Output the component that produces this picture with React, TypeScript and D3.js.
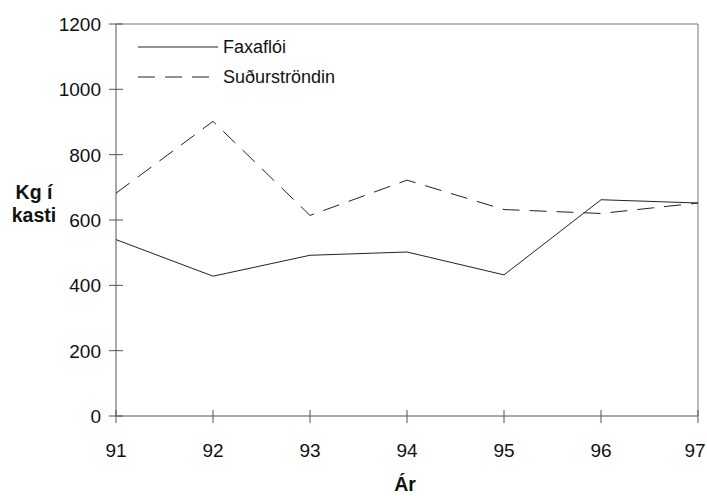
import React from "react";
import * as d3 from "d3";

const years = ["91", "92", "93", "94", "95", "96", "97"];
const faxafloi = [540, 428, 492, 502, 432, 662, 652];
const sudurstrondin = [682, 902, 614, 722, 632, 620, 652];
const yTicks = [0, 200, 400, 600, 800, 1000, 1200];
const seriesNames = ["Faxaflói", "Suðurströndin"];

const W = 707;
const H = 496;
const left = 116;
const right = 698;
const top = 24;
const bottom = 416;
const font = "'Liberation Sans', Arial, sans-serif";

export default function App() {
  const x = d3.scalePoint<string>().domain(years).range([left, right]);
  const y = d3.scaleLinear().domain([0, 1200]).range([bottom, top]);
  const line = d3
    .line<number>()
    .x((_, i) => x(years[i]) as number)
    .y((d) => y(d));

  return (
    <svg
      width={W}
      height={H}
      style={{ position: "absolute", left: 0, top: 0, background: "#fff" }}
      fontFamily={font}
    >
      <rect x={0} y={0} width={W} height={H} fill="#fff" />
      {/* frame */}
      <line x1={left} y1={top} x2={right} y2={top} stroke="#777" strokeWidth={1} />
      <line x1={right} y1={top} x2={right} y2={bottom} stroke="#777" strokeWidth={1} />
      {/* axes */}
      <line x1={left} y1={top} x2={left} y2={bottom} stroke="#555" strokeWidth={1} />
      <line x1={left} y1={bottom} x2={right} y2={bottom} stroke="#555" strokeWidth={1} />
      {yTicks.map((t) => (
        <g key={"y" + t}>
          <line x1={left - 7} x2={left + 7} y1={y(t)} y2={y(t)} stroke="#555" />
          <text x={101} y={y(t) + 7} textAnchor="end" fontSize={19} fill="#111">
            {t}
          </text>
        </g>
      ))}
      {years.map((yr, i) => (
        <g key={"x" + yr}>
          <line x1={x(yr)} x2={x(yr)} y1={bottom - 6} y2={bottom + 7} stroke="#555" />
          <text
            x={(x(yr) as number) - (i === years.length - 1 ? 3 : 0)}
            y={bottom + 41}
            textAnchor="middle"
            fontSize={19}
            fill="#111"
          >
            {yr}
          </text>
        </g>
      ))}
      {/* axis titles */}
      <text x={34} y={199} textAnchor="middle" fontSize={19.5} fontWeight="bold" fill="#111">
        Kg í
      </text>
      <text x={34} y={222} textAnchor="middle" fontSize={19.5} fontWeight="bold" fill="#111">
        kasti
      </text>
      <text x={405} y={491} textAnchor="middle" fontSize={19.5} fontWeight="bold" fill="#111">
        Ár
      </text>
      {/* series */}
      <path d={line(faxafloi) || ""} fill="none" stroke="#222" strokeWidth={1} />
      <path
        d={line(sudurstrondin) || ""}
        fill="none"
        stroke="#222"
        strokeWidth={1}
        strokeDasharray="17 10"
      />
      {/* legend */}
      <line x1={138} x2={218} y1={47} y2={47} stroke="#222" />
      <text x={223} y={53} fontSize={18} fill="#111">
        {seriesNames[0]}
      </text>
      <line x1={138} x2={218} y1={77} y2={77} stroke="#222" strokeDasharray="17 10" />
      <text x={223} y={83} fontSize={18} fill="#111">
        {seriesNames[1]}
      </text>
    </svg>
  );
}
